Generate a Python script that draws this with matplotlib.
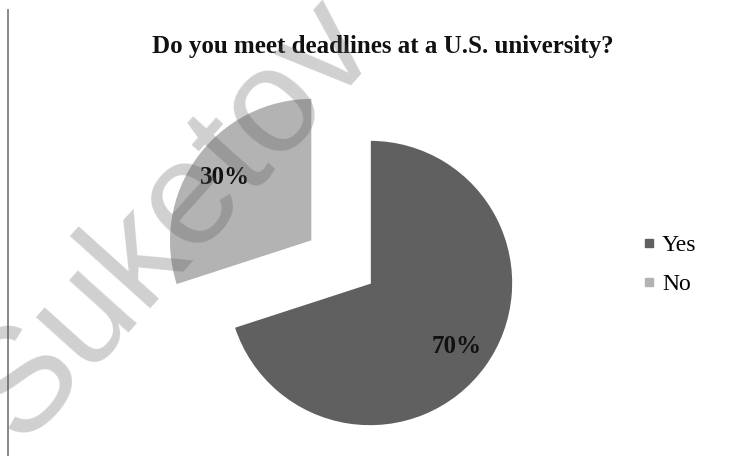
import matplotlib.pyplot as plt
from matplotlib.lines import Line2D

labels = ["Yes", "No"]
shares = [70, 30]
colors = ["#606060", "#b3b3b3"]

W, H = 756, 458
fig = plt.figure(figsize=(W / 100, H / 100), dpi=100)
fig.patch.set_facecolor("white")

# pie axes in units of the radius (143 px), centre at (370, 283) px
R = 143.0
cx, cy = 370.0, 283.0
ax = fig.add_axes([0, 0, 1, 1])

wedges, texts, autotexts = ax.pie(
    shares, colors=colors, startangle=90, counterclock=False,
    explode=[0, 0.5], autopct="%d%%", pctdistance=0.75,
    wedgeprops=dict(edgecolor="white", linewidth=1.2),
    textprops=dict(fontsize=18, fontweight="bold", family="Liberation Serif",
                   color="#111111"))
ax.set_xlim(-cx / R, (W - cx) / R)
ax.set_ylim(-(H - cy) / R, cy / R)
ax.axis("off")

fig.text(383 / W, 1 - 46 / H, "Do you meet deadlines at a U.S. university?",
         ha="center", va="center", fontsize=18, fontweight="bold",
         family="Liberation Serif", color="#111111")

handles = [Line2D([], [], marker="s", ls="", markersize=6, color=c) for c in colors]
fig.legend(handles, labels, loc="center left", bbox_to_anchor=(616 / W, 1 - 265 / H),
           frameon=False, prop=dict(family="Liberation Serif", size=17),
           handletextpad=0.05, labelspacing=0.75, handlelength=1.0)

# left border line
fig.add_artist(Line2D([8 / W, 8 / W], [1 - 455 / H, 1 - 10 / H], color="#7f7f7f", lw=1.3))

# watermark
fig.text(172 / W, 1 - 220 / H, "Suketov", rotation=48, ha="center", va="center",
         fontsize=107, family="Liberation Sans", color="#555555", alpha=0.28, zorder=10)

plt.savefig("out.png", dpi=100, facecolor="white")
